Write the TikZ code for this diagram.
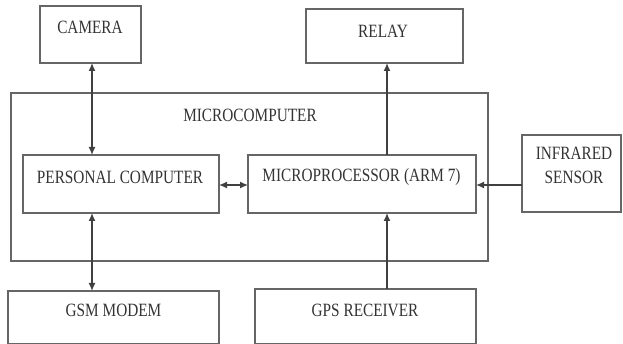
\documentclass[tikz,border=0pt]{standalone}
\usepackage{fontspec}
\setmainfont{Liberation Serif}
\usetikzlibrary{arrows.meta}
\definecolor{linec}{HTML}{666666}
\definecolor{txtc}{HTML}{333333}
\newcommand{\tx}[1]{\scalebox{1.02}[1.25]{#1}}
\tikzset{
  box/.style={draw=linec, line width=1.4pt, inner sep=0pt, outer sep=0pt},
  lbl/.style={text=txtc, inner sep=0pt, font=\fontsize{15}{17}\selectfont},
  conn/.style={draw=black!75, line width=1.4pt},
  tip/.style={-{Latex[length=8pt,width=7pt]}},
  tips/.style={{Latex[length=8pt,width=7pt]}-{Latex[length=8pt,width=7pt]}}
}
\begin{document}
\begin{tikzpicture}[x=1pt,y=-1pt]
\useasboundingbox (0,0) rectangle (623,344);
% boxes
\node[box, minimum width=101pt, minimum height=57pt] (cam) at (90.5,34.5) {};
\node[box, minimum width=157pt, minimum height=54pt] (rel) at (384.5,36) {};
\node[box, minimum width=477pt, minimum height=168pt] (mc) at (249.5,177) {};
\node[box, minimum width=196pt, minimum height=58pt] (pc) at (121,184) {};
\node[box, minimum width=228pt, minimum height=58pt] (mp) at (362,184) {};
\node[box, minimum width=99pt, minimum height=77pt] (ir) at (571.5,173.5) {};
\node[box, minimum width=211pt, minimum height=53pt] (gsm) at (113.5,317.5) {};
\node[box, minimum width=221pt, minimum height=55pt] (gps) at (365.5,316.5) {};
% labels
\node[lbl] (tcam) at (90,27) {\tx{CAMERA}};
\node[lbl] (trel) at (383,31) {\tx{RELAY}};
\node[lbl] (tmc) at (250,115) {\tx{MICROCOMPUTER}};
\node[lbl] (tpc) at (120,177) {\tx{PERSONAL COMPUTER}};
\node[lbl] (tmp) at (361.5,177) {\tx{MICROPROCESSOR (ARM 7)}};
\node[lbl] (tir1) at (574,153) {\tx{INFRARED}};
\node[lbl] (tir2) at (574,177) {\tx{SENSOR}};
\node[lbl] (tgsm) at (113.5,310) {\tx{GSM MODEM}};
\node[lbl] (tgps) at (365,310) {\tx{GPS RECEIVER}};
% connector guides
\coordinate (ax1) at (92,0);
\coordinate (ax2) at (387,0);
\coordinate (ay) at (0,185);
% connectors
\draw[conn, tips] (ax1 |- cam.south) -- (ax1 |- pc.north);
\draw[conn, tips] (ax1 |- pc.south) -- (ax1 |- gsm.north);
\draw[conn, tips] (pc.east |- ay) -- (mp.west |- ay);
\draw[conn, tip] (ax2 |- mp.north) -- (ax2 |- rel.south);
\draw[conn, tip] (ax2 |- gps.north) -- (ax2 |- mp.south);
\draw[conn, tip] (ir.west |- ay) -- (mp.east |- ay);
\end{tikzpicture}
\end{document}
